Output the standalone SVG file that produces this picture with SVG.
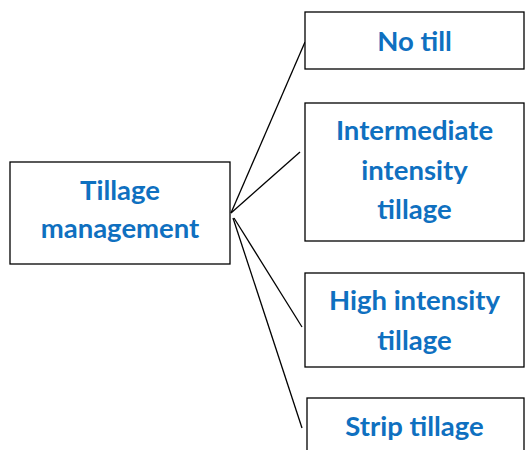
<svg xmlns="http://www.w3.org/2000/svg" width="525" height="450" viewBox="0 0 525 450">
<style>
.box{fill:#fff;stroke:#000;stroke-width:1.3}
.t{font-family:Lato,"Open Sans",sans-serif;font-weight:bold;font-size:27.5px;fill:#0F70C0;text-anchor:middle}
.c{stroke:#000;stroke-width:1.3;fill:none}
</style>
<rect width="525" height="450" fill="#fff"/>
<g id="connectors">
<line class="c" x1="231" y1="213" x2="305" y2="42"/>
<line class="c" x1="231" y1="213" x2="300" y2="152"/>
<line class="c" x1="234" y1="218" x2="302" y2="327"/>
<line class="c" x1="233" y1="218" x2="302" y2="428"/>
</g>
<g id="tillage-management">
<rect class="box" x="10" y="162" width="220" height="102"/>
<text class="t" x="120" y="200">Tillage</text>
<text class="t" x="120" y="238">management</text>
</g>
<g id="no-till">
<rect class="box" x="305" y="12" width="219" height="57"/>
<text class="t" x="414.5" y="51">No till</text>
</g>
<g id="intermediate">
<rect class="box" x="305" y="103" width="219" height="138"/>
<text class="t" x="414.5" y="140">Intermediate</text>
<text class="t" x="414.5" y="180">intensity</text>
<text class="t" x="414.5" y="219">tillage</text>
</g>
<g id="high">
<rect class="box" x="305" y="273" width="219" height="94"/>
<text class="t" x="414.5" y="310">High intensity</text>
<text class="t" x="414.5" y="350">tillage</text>
</g>
<g id="strip">
<rect class="box" x="307" y="398" width="217" height="60"/>
<text class="t" x="414.5" y="436">Strip tillage</text>
</g>
</svg>
